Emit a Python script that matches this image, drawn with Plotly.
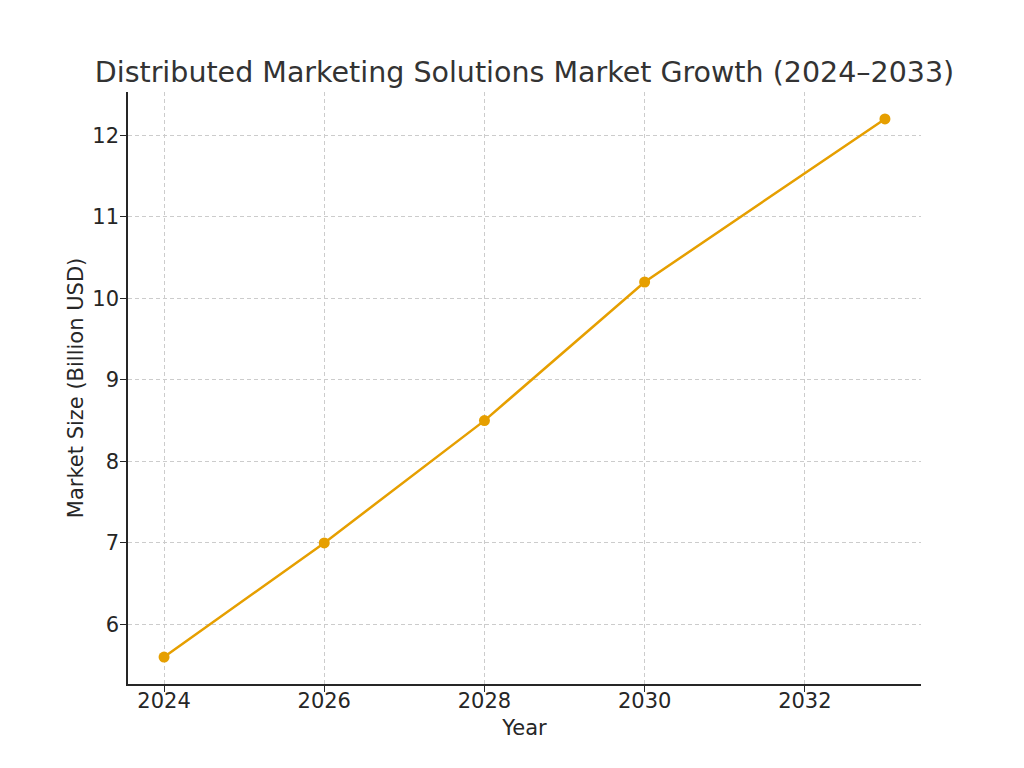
import plotly.graph_objects as go

years = [2024, 2026, 2028, 2030, 2033]
market_size = [5.6, 7.0, 8.5, 10.2, 12.2]
x_ticks = [2024, 2026, 2028, 2030, 2032]
y_ticks = [6, 7, 8, 9, 10, 11, 12]

title_text = "Distributed Marketing Solutions Market Growth (2024–2033)"
x_title = "Year"
y_title = "Market Size (Billion USD)"

color = "#E69F00"
font = "DejaVu Sans"

fig = go.Figure()
fig.add_trace(go.Scatter(
    x=years, y=market_size, mode="lines+markers",
    line=dict(color=color, width=2.5),
    marker=dict(color=color, size=11),
    showlegend=False,
))

fig.update_layout(
    width=1024, height=768,
    margin=dict(l=128, r=103, t=92, b=84),
    paper_bgcolor="white", plot_bgcolor="white",
    font=dict(family=font, color="#262626", size=21),
    title=dict(text=title_text, x=0.5, xref="paper", xanchor="center", y=0.906, yanchor="middle",
               font=dict(family=font, size=28.5, color="#333333")),
    xaxis=dict(
        range=[2023.55, 2033.45], tickvals=x_ticks, ticktext=[str(v) for v in x_ticks],
        showgrid=True, gridcolor="#cccccc", griddash="4px,3px", gridwidth=1,
        showline=True, linecolor="#262626", linewidth=1.5, mirror=False,
        ticks="outside", ticklen=6, tickcolor="#262626", zeroline=False,
        tickfont=dict(size=21), ticklabelstandoff=-9,
        title=dict(text=x_title, font=dict(size=21), standoff=8),
    ),
    yaxis=dict(
        range=[5.27, 12.53], tickvals=y_ticks, ticktext=[str(v) for v in y_ticks],
        showgrid=True, gridcolor="#cccccc", griddash="4px,3px", gridwidth=1,
        showline=True, linecolor="#262626", linewidth=1.5, mirror=False,
        ticks="outside", ticklen=6, tickcolor="#262626", zeroline=False,
        tickfont=dict(size=21), ticklabelstandoff=-3,
        title=dict(text=y_title, font=dict(size=21), standoff=3),
    ),
)

fig.write_html("out.html")
